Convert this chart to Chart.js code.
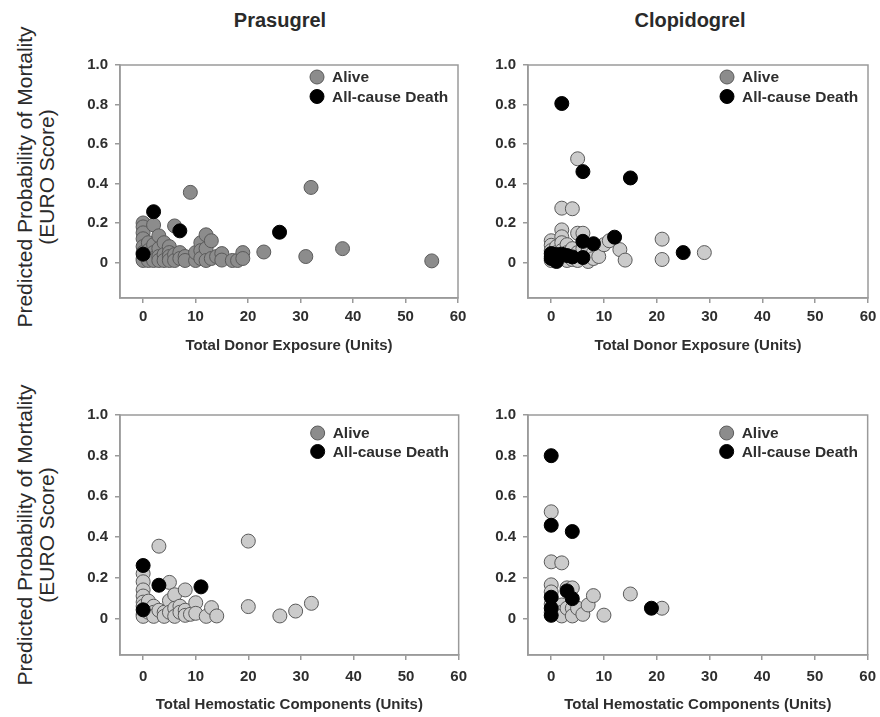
<!DOCTYPE html>
<html>
<head>
<meta charset="utf-8">
<script src="https://cdn.jsdelivr.net/npm/chart.js@4.4.0/dist/chart.umd.min.js"></script>
<style>
  body { margin: 0; background: #fff; overflow: hidden; }
  #page { position: relative; width: 880px; height: 717px; font-family: 'Liberation Sans', Arial, sans-serif; color: #333; overflow: hidden; }
  .title { position: absolute; top: 8px; width: 200px; text-align: center; font-size: 20px; font-weight: bold; line-height: 24px; color: #2a2a2a; }
  .ylab { position: absolute; width: 340px; height: 44px; text-align: center; font-size: 21px; line-height: 22px; transform: rotate(-90deg); color: #2a2a2a; }
  .panel { position: absolute; }
</style>
</head>
<body>
<div id="page">
  <div class="title" style="left:180px">Prasugrel</div>
  <div class="title" style="left:590px">Clopidogrel</div>
  <div class="ylab" style="left:-134px;top:155px">Predicted Probability of Mortality<br>(EURO Score)</div>
  <div class="ylab" style="left:-134px;top:513px">Predicted Probability of Mortality<br>(EURO Score)</div>
</div>
<script>
// axis ticks and series names
var xTicks = [0, 10, 20, 30, 40, 50, 60];
var yTicks = [0, 0.2, 0.4, 0.6, 0.8, 1.0];
var seriesLabels = ['Alive', 'All-cause Death'];

// Prasugrel - total donor exposure
var prasDonorAliveX = [0,0,0,0,0,0,0,0, 1,1,1,1, 2,2,2,2,2, 3,3,3,3, 4,4,4, 5,5,5,5, 6,6,6, 7,7, 8,8, 9, 10,10, 11,11,11, 12,12,12, 13,13, 14, 15,15, 17, 18, 19,19, 23, 31, 32, 38, 55];
var prasDonorAliveY = [0.20,0.18,0.15,0.12,0.08,0.05,0.02,0.01, 0.10,0.06,0.03,0.01, 0.19,0.09,0.05,0.02,0.01, 0.135,0.07,0.03,0.01, 0.10,0.04,0.01, 0.08,0.05,0.03,0.01, 0.185,0.04,0.01, 0.05,0.02, 0.03,0.01, 0.355, 0.01,0.05, 0.10,0.06,0.02, 0.14,0.07,0.01, 0.11,0.02, 0.03, 0.045,0.012, 0.01, 0.01, 0.05,0.02, 0.053, 0.03, 0.38, 0.07, 0.008];
var prasDonorDeathX = [2, 7, 26, 0];
var prasDonorDeathY = [0.257, 0.16, 0.153, 0.042];

// Clopidogrel - total donor exposure
var clopDonorAliveX = [0,0,0,0,0, 1,1,1, 2,2,2,2,2,2, 3,3,3, 4,4,4, 5,5,5,5, 6,6, 7,7,7, 8,8, 9,9, 10, 11, 13, 14, 21,21, 29];
var clopDonorAliveY = [0.11,0.087,0.06,0.03,0.01, 0.08,0.05,0.015, 0.275,0.165,0.13,0.10,0.06,0.02, 0.09,0.05,0.01, 0.272,0.07,0.015, 0.525,0.148,0.05,0.01, 0.148,0.07, 0.06,0.02,0.005, 0.05,0.02, 0.075,0.03, 0.09, 0.11, 0.065, 0.012, 0.118,0.015, 0.05];
var clopDonorDeathX = [2, 6, 15, 12, 6, 8, 25, 0, 0, 1, 1, 2, 3, 4, 6];
var clopDonorDeathY = [0.805, 0.46, 0.428, 0.128, 0.107, 0.095, 0.05, 0.045, 0.02, 0.04, 0.005, 0.042, 0.035, 0.028, 0.025];

// Prasugrel - total hemostatic components
var prasHemoAliveX = [0,0,0,0,0,0,0,0, 1,1, 2,2,2, 3,3, 4,4, 5,5,5, 6,6,6, 7,7, 8,8,8, 9, 10,10, 12, 13, 14, 20,20, 26, 29, 32];
var prasHemoAliveY = [0.22,0.18,0.14,0.11,0.08,0.06,0.02,0.01, 0.085,0.03, 0.06,0.03,0.01, 0.355,0.04, 0.03,0.01, 0.177,0.087,0.03, 0.116,0.05,0.01, 0.06,0.03, 0.14,0.04,0.015, 0.02, 0.077,0.025, 0.01, 0.053, 0.012, 0.38,0.058, 0.012, 0.036, 0.074];
var prasHemoDeathX = [0, 3, 11, 0];
var prasHemoDeathY = [0.26, 0.163, 0.155, 0.042];

// Clopidogrel - total hemostatic components
var clopHemoAliveX = [0,0,0,0,0,0, 1, 2,2,2,2, 3,3, 4,4,4, 5, 6, 7, 8, 10, 15, 21];
var clopHemoAliveY = [0.524,0.278,0.165,0.13,0.07,0.03, 0.04, 0.273,0.066,0.03,0.012, 0.15,0.05, 0.15,0.05,0.012, 0.05, 0.02, 0.066, 0.112, 0.016, 0.12, 0.05];
var clopHemoDeathX = [0, 0, 4, 3, 4, 0, 19, 0, 0];
var clopHemoDeathY = [0.80, 0.458, 0.427, 0.135, 0.097, 0.104, 0.05, 0.05, 0.015];

var FRAME = '#9a9a9a';
var TEXT = '#2e2e2e';
var PAD_L = 60, PAD_R = 16, PAD_T = 16, PAD_B = 66;
var R = 7;

function toPoints(xs, ys) {
  return xs.map(function (x, i) { return {x: x, y: ys[i]}; });
}

// box around the plot area
var framePlugin = {
  id: 'frame',
  afterDraw: function (chart) {
    var a = chart.chartArea, ctx = chart.ctx;
    ctx.save();
    ctx.strokeStyle = FRAME;
    ctx.lineWidth = 1.5;
    ctx.strokeRect(a.left, a.top, a.right - a.left, a.bottom - a.top);
    ctx.restore();
  }
};

// legend drawn inside the plot, upper right
var insideLegend = {
  id: 'insideLegend',
  afterDraw: function (chart, args, o) {
    var a = chart.chartArea, ctx = chart.ctx;
    ctx.save();
    ctx.font = 'bold 15.5px "Liberation Sans", Arial, sans-serif';
    ctx.textBaseline = 'middle';
    chart.data.datasets.forEach(function (ds, i) {
      var cx = a.right - o.dx, cy = a.top + o.dy + i * o.gap;
      ctx.beginPath();
      ctx.arc(cx, cy, R, 0, Math.PI * 2);
      ctx.fillStyle = o.colors[i];
      ctx.fill();
      ctx.lineWidth = 1;
      ctx.strokeStyle = i === 0 ? '#5a5a5a' : '#000';
      ctx.stroke();
      ctx.fillStyle = TEXT;
      ctx.fillText(ds.label, cx + 15, cy + 1);
    });
    ctx.restore();
  }
};

function makePanel(p) {
  var w = p.right - p.left, h = p.bottom - p.top;
  var canvas = document.createElement('canvas');
  canvas.className = 'panel';
  canvas.width = w + PAD_L + PAD_R;
  canvas.height = h + PAD_T + PAD_B;
  canvas.style.left = (p.left - PAD_L) + 'px';
  canvas.style.top = (p.top - PAD_T) + 'px';
  document.getElementById('page').appendChild(canvas);

  var tickFont = {family: "'Liberation Sans', Arial, sans-serif", size: 15, weight: 'bold'};

  new Chart(canvas, {
    type: 'scatter',
    data: {
      datasets: [
        {label: seriesLabels[0], data: toPoints(p.aliveX, p.aliveY), backgroundColor: p.aliveFill,
         borderColor: '#5a5a5a', borderWidth: 1, pointRadius: R, order: 2},
        {label: seriesLabels[1], data: toPoints(p.deathX, p.deathY), backgroundColor: '#000',
         borderColor: '#000', borderWidth: 1, pointRadius: R, order: 1}
      ]
    },
    options: {
      responsive: false,
      animation: false,
      layout: {padding: {top: PAD_T, right: PAD_R, left: 0, bottom: 0}},
      plugins: {
        legend: {display: false},
        tooltip: {enabled: false},
        insideLegend: {dx: 141, dy: p.legendDy, gap: p.legendGap, colors: ['#8c8c8c', '#000']}
      },
      scales: {
        x: {
          type: 'linear', min: -4.4, max: 60,
          afterBuildTicks: function (s) { s.ticks = xTicks.map(function (v) { return {value: v}; }); },
          afterFit: function (s) { s.height = PAD_B; },
          grid: {drawOnChartArea: false, tickLength: 5, color: FRAME, lineWidth: 1.5},
          border: {color: FRAME, width: 1.5},
          ticks: {font: tickFont, color: TEXT, padding: p.xTickPad, maxRotation: 0},
          title: {display: true, text: p.xTitle, color: TEXT, font: {family: tickFont.family, size: 15, weight: 'bold'},
                  padding: {top: 0, bottom: p.xTitlePad}}
        },
        y: {
          min: -0.18, max: 1.0,
          afterBuildTicks: function (s) { s.ticks = yTicks.map(function (v) { return {value: v}; }); },
          afterFit: function (s) { s.width = PAD_L; },
          grid: {drawOnChartArea: false, tickLength: 5, color: FRAME, lineWidth: 1.5},
          border: {color: FRAME, width: 1.5},
          ticks: {font: tickFont, color: TEXT, padding: 7,
                  callback: function (v) { return v === 0 ? '0' : v.toFixed(1); }}
        }
      }
    },
    plugins: [framePlugin, insideLegend]
  });
}

makePanel({left: 120, top: 65, right: 458, bottom: 298, xTitle: 'Total Donor Exposure (Units)',
  aliveX: prasDonorAliveX, aliveY: prasDonorAliveY, deathX: prasDonorDeathX, deathY: prasDonorDeathY,
  aliveFill: '#8c8c8c', legendDy: 12, legendGap: 19.5, xTickPad: 5, xTitlePad: 9});
makePanel({left: 528, top: 65, right: 868, bottom: 298, xTitle: 'Total Donor Exposure (Units)',
  aliveX: clopDonorAliveX, aliveY: clopDonorAliveY, deathX: clopDonorDeathX, deathY: clopDonorDeathY,
  aliveFill: '#cbcbcb', legendDy: 12, legendGap: 19.5, xTickPad: 5, xTitlePad: 9});
makePanel({left: 120, top: 415, right: 459, bottom: 655, xTitle: 'Total Hemostatic Components (Units)',
  aliveX: prasHemoAliveX, aliveY: prasHemoAliveY, deathX: prasHemoDeathX, deathY: prasHemoDeathY,
  aliveFill: '#cbcbcb', legendDy: 18, legendGap: 18.5, xTickPad: 8, xTitlePad: 7});
makePanel({left: 528, top: 415, right: 868, bottom: 655, xTitle: 'Total Hemostatic Components (Units)',
  aliveX: clopHemoAliveX, aliveY: clopHemoAliveY, deathX: clopHemoDeathX, deathY: clopHemoDeathY,
  aliveFill: '#cbcbcb', legendDy: 18, legendGap: 18.5, xTickPad: 8, xTitlePad: 7});
</script>
</body>
</html>
